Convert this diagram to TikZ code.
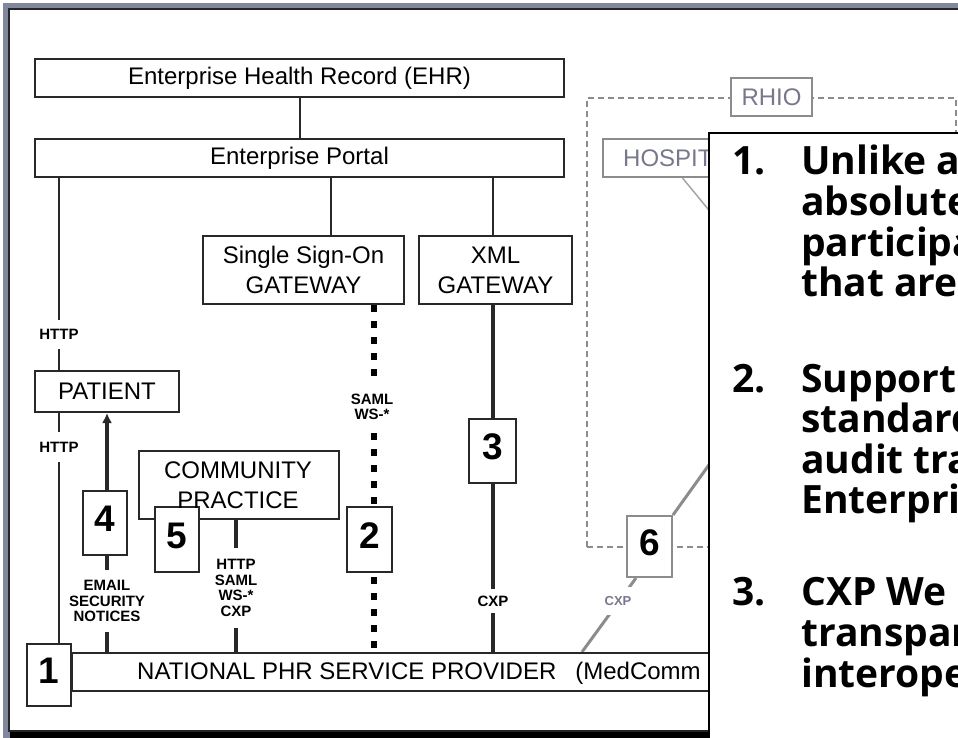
\documentclass[tikz,border=0pt]{standalone}
\usepackage{fontspec}
\setmainfont{Liberation Sans}
\newfontfamily\boxfont{Open Sans}
\usetikzlibrary{arrows.meta}
\definecolor{framegray}{RGB}{128,135,158}
\definecolor{boxc}{RGB}{40,40,40}
\definecolor{rgray}{RGB}{140,140,140}
\definecolor{lgray}{RGB}{165,165,165}
\definecolor{rtext}{RGB}{120,120,140}
\begin{document}
\begin{tikzpicture}[x=1pt,y=-1pt,
  box/.style={draw=boxc,line width=2pt,fill=white,inner sep=0pt,align=center,text=black,
    font=\fontsize{24pt}{30pt}\selectfont},
  numbox/.style={box,font=\bfseries\fontsize{37pt}{37pt}\selectfont,text height=27pt,text depth=10pt},
  gbox/.style={draw=rgray,line width=2pt,fill=white,inner sep=0pt,text=rtext,
    font=\fontsize{24pt}{30pt}\selectfont},
  lbl/.style={inner sep=0pt,fill=white,align=center,text=black,
    font=\bfseries\fontsize{15pt}{15.6pt}\selectfont},
  conn/.style={draw=boxc,line width=2pt},
  tconn/.style={draw=boxc,line width=3.5pt},
  dotconn/.style={draw=black,line width=6.5pt,dash pattern=on 7pt off 9pt},
  gconn/.style={draw=rgray,line width=3pt},
  item/.style={inner sep=0pt,text=black,font=\boxfont\bfseries\fontsize{39pt}{40pt}\selectfont},
]
\useasboundingbox (0,0) rectangle (958,738);
% frame
\fill[framegray] (3,3) rectangle (1000,760);
\draw[line width=2pt,draw=black!85,fill=white] (9,9) rectangle (1000,731);
\fill[black] (10,732) rectangle (1000,760);

% column coordinates
\coordinate (x59) at (59,0);
\coordinate (x107) at (107,0);
\coordinate (x236) at (236,0);
\coordinate (x331) at (331,0);
\coordinate (x374) at (374,0);
\coordinate (x493) at (493,0);
\coordinate (x582) at (582,0);

% RHIO region
\node[draw=rgray,line width=1.5pt,dash pattern=on 6pt off 4pt,minimum width=369pt,minimum height=449pt,inner sep=0pt] (rhio) at (771.5,322.5) {};

% boxes
\node[box,minimum width=529pt,minimum height=38pt] (ehr) at (299.5,78) {Enterprise Health Record (EHR)};
\node[box,minimum width=529pt,minimum height=38pt] (portal) at (299.5,158) {Enterprise Portal};
\node[box,minimum width=201pt,minimum height=68pt] (sso) at (303.5,270) {Single Sign-On\\GATEWAY};
\node[box,minimum width=153pt,minimum height=68pt] (xml) at (495.5,270) {XML\\GATEWAY};
\node[box,minimum width=144pt,minimum height=41pt] (patient) at (107,391.5) {PATIENT};
\node[box,anchor=north west,minimum width=940pt,minimum height=38pt] (npsp) at (71,652) {};
\coordinate (hospend) at (745,254);
\coordinate (b6up) at (744,416);

% connectors
\draw[conn] (ehr.south) -- (portal.north);
\draw[conn] (x59 |- portal.south) -- (x59 |- patient.north);
\draw[conn] (x59 |- patient.south) -- (x59 |- npsp.south);
\draw[conn] (x331 |- portal.south) -- (x331 |- sso.north);
\draw[conn] (x493 |- portal.south) -- (x493 |- xml.north);
\draw[tconn] (x493 |- xml.south) -- (x493 |- npsp.north);
\draw[dotconn] (x374 |- sso.south) -- (x374 |- npsp.north);
\draw[tconn,-{Latex[length=10pt,width=10pt]}] (x107 |- npsp.north) -- (x107 |- patient.south);

% community practice
\node[box,minimum width=200pt,minimum height=68pt] (comm) at (239,485) {};
\draw[tconn] (x236 |- comm.south) -- (x236 |- npsp.north);

% box 6 and its link down to the provider bar
\node[numbox,draw=rgray,minimum width=45pt,minimum height=61pt] (b6) at (649.5,546.5) {6};
\draw[gconn] ([xshift=-13.5pt]b6.south) -- (x582 |- npsp.north);

% provider bar on top of line ends
\node[box,anchor=north west,minimum width=940pt,minimum height=38pt] (npspbox) at (71,652) {};
\node[anchor=base west,inner sep=0pt,font=\fontsize{24pt}{30pt}\selectfont] (npsptext) at (137,679)
  {NATIONAL PHR SERVICE PROVIDER\hspace{19pt}(MedComm};

% numbered boxes
\node[numbox,minimum width=44pt,minimum height=64pt] (b4) at (105,523) {4};
\node[numbox,minimum width=44pt,minimum height=65pt] (b5) at (177,539.5) {5};
\node[inner sep=0pt,align=center,font=\fontsize{24pt}{30pt}\selectfont] (commtext) at (238,485) {COMMUNITY\\PRACTICE};
\node[numbox,minimum width=45pt,minimum height=65pt] (b2) at (369.5,539.5) {2};
\node[numbox,minimum width=47pt,minimum height=64pt] (b3) at (492.5,451) {3};
\node[numbox,minimum width=44pt,minimum height=62pt] (b1) at (49,675) {1};

% labels on connectors
\node[lbl,minimum height=29pt] (http1) at (59,334) {HTTP};
\node[lbl,minimum height=30pt] (http2) at (59,447) {HTTP};
\node[lbl,minimum height=48pt] (saml) at (372,407) {SAML\\WS-*};
\node[lbl,minimum height=62pt] (email) at (107,601) {EMAIL\\SECURITY\\NOTICES};
\node[lbl,minimum height=80pt] (commlbl) at (236,588) {HTTP\\SAML\\WS-*\\CXP};
\node[lbl,minimum height=24pt] (cxp3) at (493,601) {CXP};

% RHIO side
\node[gbox,minimum width=81pt,minimum height=38pt] (rhiolbl) at (rhio.north) {RHIO};
\node[gbox,minimum width=159pt,minimum height=38pt] (hosp) at (682.5,158) {};
\node[anchor=west,inner sep=0pt,text=rtext,font=\fontsize{24pt}{30pt}\selectfont] (hosptext) at (623,158) {HOSPIT};
\draw[draw=lgray,line width=1.5pt] (hosp.south) -- (hospend);
\draw[gconn] (b6.north east) -- (b6up);
\node[lbl,text=rtext,fill=white,minimum height=28pt,minimum width=30pt,font=\bfseries\fontsize{13pt}{14pt}\selectfont] (cxp6) at (618,601) {CXP};

% text overlay
\node[draw=black,line width=2pt,fill=white,anchor=north west,minimum width=300pt,minimum height=650pt,inner sep=0pt] (tbox) at (708,132) {};
\node[item,anchor=base east] (n1) at (766,175) {1.};
\node[item,anchor=base west] (t1a) at (801,175) {Unlike a};
\node[item,anchor=base west] (t1b) at (801,215.5) {absolute};
\node[item,anchor=base west] (t1c) at (801,256) {participa};
\node[item,anchor=base west] (t1d) at (801,296.5) {that are};
\node[item,anchor=base east] (n2) at (766,392) {2.};
\node[item,anchor=base west] (t2a) at (801,392) {Support};
\node[item,anchor=base west] (t2b) at (801,432.5) {standard};
\node[item,anchor=base west] (t2c) at (801,473) {audit tra};
\node[item,anchor=base west] (t2d) at (801,513) {Enterpri};
\node[item,anchor=base east] (n3) at (766,605) {3.};
\node[item,anchor=base west] (t3a) at (801,605) {CXP We};
\node[item,anchor=base west] (t3b) at (801,646) {transpar};
\node[item,anchor=base west] (t3c) at (801,687) {interope};
\end{tikzpicture}
\end{document}
